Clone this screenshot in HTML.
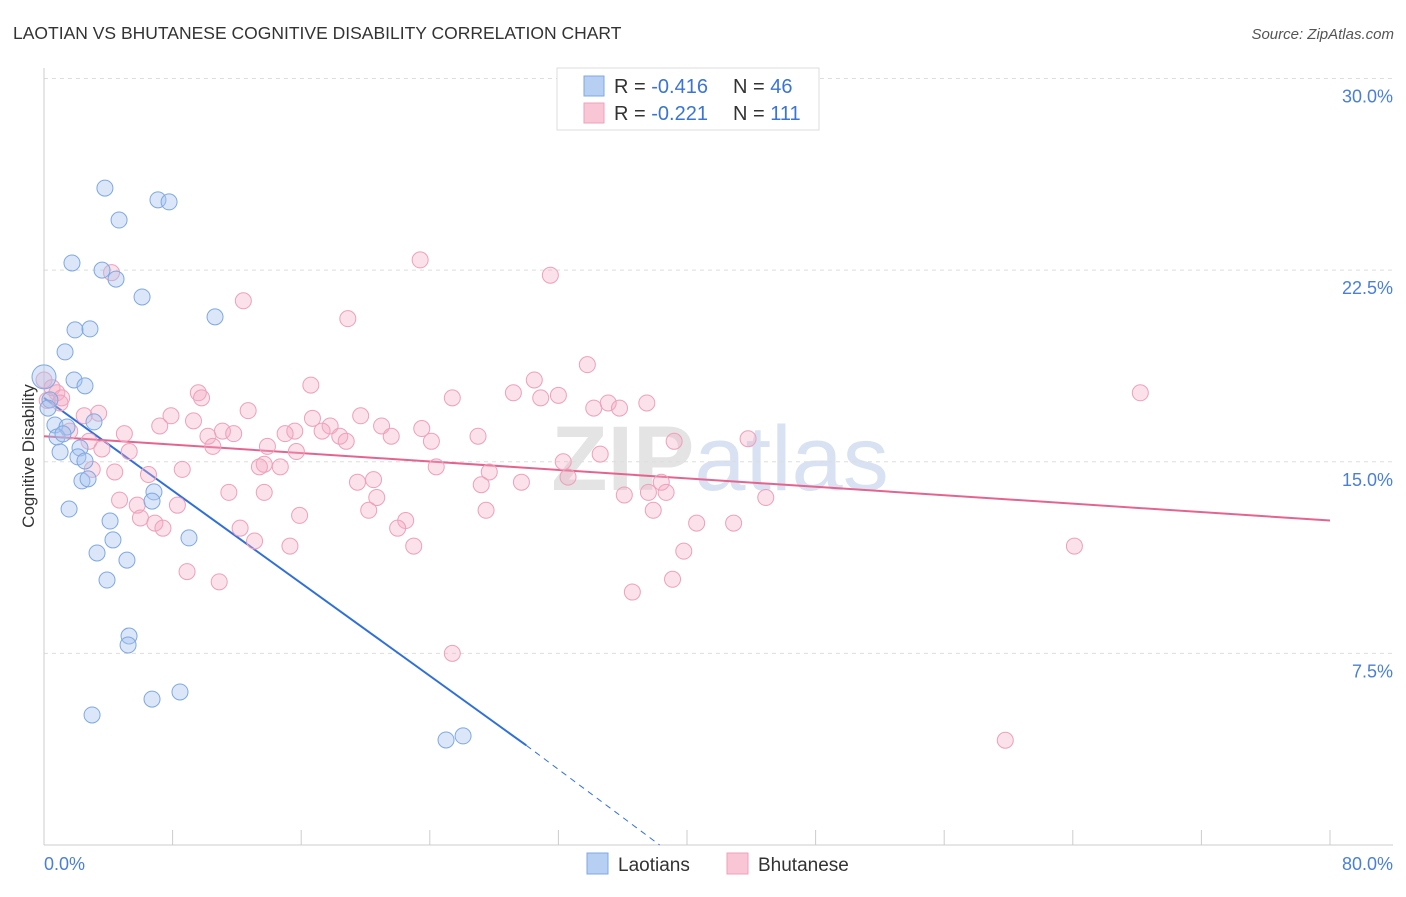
<!DOCTYPE html>
<html><head><meta charset="utf-8"><style>
body{margin:0;background:#fff;font-family:"Liberation Sans",sans-serif;}
svg text{font-family:"Liberation Sans",sans-serif;}
</style></head><body>
<svg id="chart" width="1406" height="892" xmlns="http://www.w3.org/2000/svg">
<text x="13" y="39" font-size="17.5" fill="#333">LAOTIAN VS BHUTANESE COGNITIVE DISABILITY CORRELATION CHART</text>
<text x="1394" y="39" font-size="15" fill="#555" font-style="italic" text-anchor="end">Source: ZipAtlas.com</text>
<text x="720" y="490" font-size="92" fill="#e4e4e4" text-anchor="middle" font-family="Liberation Serif"><tspan font-weight="bold">ZIP</tspan><tspan fill="#d8e2f2" font-family="Liberation Sans">atlas</tspan></text>
<g id="grid"></g>
<g id="axes"></g>
<g id="trend"></g>
<g id="pts"></g>
<text transform="translate(34,456) rotate(-90)" font-size="17" fill="#333" text-anchor="middle">Cognitive Disability</text>
<g>
<rect x="557" y="68" width="262" height="62" fill="#fff" stroke="#ddd"/>
<rect x="584" y="76" width="20" height="20" fill="#b7cff3" stroke="#7fa8e0"/>
<rect x="584" y="103" width="20" height="20" fill="#f9c6d6" stroke="#eea0bb"/>
<text x="614" y="93" font-size="20" fill="#333">R = <tspan fill="#3a74d6">-0.416</tspan></text>
<text x="733" y="93" font-size="20" fill="#333">N = <tspan fill="#3a74d6">46</tspan></text>
<text x="614" y="120" font-size="20" fill="#333">R = <tspan fill="#3a74d6">-0.221</tspan></text>
<text x="733" y="120" font-size="20" fill="#333">N = <tspan fill="#3a74d6">111</tspan></text>
</g>
<g>
<rect x="587" y="853" width="21" height="21" fill="#b7cff3" stroke="#7fa8e0"/>
<text x="618" y="871" font-size="19" fill="#333">Laotians</text>
<rect x="727" y="853" width="21" height="21" fill="#f9c6d6" stroke="#eea0bb"/>
<text x="758" y="871" font-size="19" fill="#333">Bhutanese</text>
</g>
</svg>
<script>
const blueX=[3.79,7.09,7.78,4.67,1.74,3.61,4.48,6.10,10.64,1.93,2.86,1.31,0,1.87,2.55,0.37,0.25,0.68,1.43,3.11,0.81,1.18,2.24,1.0,2.11,2.55,2.36,2.74,6.84,6.72,1.56,4.11,4.29,9.02,3.30,5.16,3.92,5.29,5.23,8.46,6.72,2.99,26.07,25.01];
const blueY=[25.71,25.25,25.17,24.46,22.78,22.5,22.15,21.45,20.67,20.16,20.2,19.3,18.32,18.2,17.97,17.42,17.1,16.44,16.36,16.56,15.97,16.09,15.54,15.38,15.19,15.03,14.25,14.33,13.82,13.46,13.15,12.68,11.94,12.02,11.43,11.15,10.37,8.18,7.83,5.99,5.71,5.09,4.27,4.11];
const pinkX=[23.4,31.5,4.2,12.4,18.9,33.8,68.2,30.5,16.6,9.6,9.8,29.2,30.9,32.0,25.4,35.1,35.8,37.5,34.2,0,0.5,0.8,1.1,0.2,1.0,3.4,2.5,7.9,7.2,9.3,12.7,19.7,16.7,17.8,15.6,17.3,21.0,15.0,18.4,21.6,23.5,24.1,27.0,5.0,10.2,11.1,11.8,10.5,18.8,43.8,39.2,1.6,2.8,3.6,5.3,13.9,15.7,32.3,34.6,13.7,13.4,14.7,3.0,4.4,6.5,8.6,24.4,27.7,32.6,19.5,20.5,27.2,29.7,38.4,11.5,13.7,4.7,5.8,8.3,20.7,36.1,37.6,38.7,44.9,20.2,27.5,37.9,15.9,6.0,6.9,7.4,22.5,22.0,12.2,40.6,42.9,13.1,15.3,23.0,39.8,64.1,8.9,10.9,39.1,36.6,25.4,59.8];
const pinkY=[22.9,22.3,22.4,21.3,20.6,18.8,17.7,18.2,18.0,17.7,17.5,17.7,17.5,17.6,17.5,17.3,17.1,17.3,17.1,18.2,17.9,17.7,17.5,17.4,17.3,16.9,16.8,16.8,16.4,16.6,17.0,16.8,16.7,16.4,16.2,16.2,16.4,16.1,16.0,16.0,16.3,15.8,16.0,16.1,16.0,16.2,16.1,15.6,15.8,15.9,15.8,16.2,15.8,15.5,15.4,15.6,15.4,15.0,15.3,14.9,14.8,14.8,14.7,14.6,14.5,14.7,14.8,14.6,14.4,14.2,14.3,14.1,14.2,14.2,13.8,13.8,13.5,13.3,13.3,13.6,13.7,13.8,13.8,13.6,13.1,13.1,13.1,12.9,12.8,12.6,12.4,12.7,12.4,12.4,12.6,12.6,11.9,11.7,11.7,11.5,11.7,10.7,10.3,10.4,9.9,7.5,4.1];
const yTicks=[7.5,15.0,22.5,30.0];
const yTickLabels=["7.5%","15.0%","22.5%","30.0%"];
const xTicks=[0,8,16,24,32,40,48,56,64,72,80];
const blueTrend=[[0,17.5],[30.0,3.9]];
const blueTrendDash=[[30.0,3.9],[38.3,0]];
const pinkTrend=[[0,16.0],[80,12.7]];
const NS="http://www.w3.org/2000/svg";
const X=v=>44+v*1286/80, Y=v=>845-v*25.55;
function mk(tag,parent,attrs){const e=document.createElementNS(NS,tag);for(const k in attrs)e.setAttribute(k,attrs[k]);document.getElementById(parent).appendChild(e);return e;}
const yl=mk('line','axes',{x1:44,y1:68,x2:44,y2:845,stroke:'#ccc'});


const xl=mk('line','axes',{x1:44,y1:845,x2:1393,y2:845,stroke:'#ccc'});


yTicks.forEach((t,i)=>{
 const g=mk('line','grid',{x1:44,x2:1393,y1:Y(t),y2:Y(t),stroke:'#ddd','stroke-dasharray':'4,4'});
 
 
 const tx=mk('text','axes',{x:1393,y:Y(t)+24,'font-size':18,fill:'#4a7fd8','text-anchor':'end'});
 tx.textContent=yTickLabels[i];
 
 
});
xTicks.forEach(t=>{
 const l=mk('line','axes',{x1:X(t),x2:X(t),y1:830,y2:845,stroke:'#ccc'});
 
 
});
const x0=mk('text','axes',{x:44,y:870,'font-size':18,fill:'#4a7fd8'});x0.textContent=xTicks[0].toFixed(1)+'%';


const x1=mk('text','axes',{x:1393,y:870,'font-size':18,fill:'#4a7fd8','text-anchor':'end'});x1.textContent=xTicks[xTicks.length-1].toFixed(1)+'%';


pinkX.forEach((v,i)=>{
 const c=mk('circle','pts',{cx:X(v),cy:Y(pinkY[i]),r:8,fill:'rgba(244,170,195,0.35)',stroke:'#eea0bb','stroke-width':1});
 
 
});
blueX.forEach((v,i)=>{
 const c=mk('circle','pts',{cx:X(v),cy:Y(blueY[i]),r:(v===0?12:8),fill:'rgba(164,194,240,0.4)',stroke:'#7fa8e0','stroke-width':1});
 
 
});
const bt=mk('line','trend',{x1:X(blueTrend[0][0]),y1:Y(blueTrend[0][1]),x2:X(blueTrend[1][0]),y2:Y(blueTrend[1][1]),stroke:'#2f6fdc','stroke-width':2});


const bd=mk('line','trend',{x1:X(blueTrendDash[0][0]),y1:Y(blueTrendDash[0][1]),x2:X(blueTrendDash[1][0]),y2:Y(blueTrendDash[1][1]),stroke:'#2f6fdc','stroke-width':1,'stroke-dasharray':'6,5'});


const pt=mk('line','trend',{x1:X(pinkTrend[0][0]),y1:Y(pinkTrend[0][1]),x2:X(pinkTrend[1][0]),y2:Y(pinkTrend[1][1]),stroke:'#e5648f','stroke-width':2});


</script>
</body></html>
